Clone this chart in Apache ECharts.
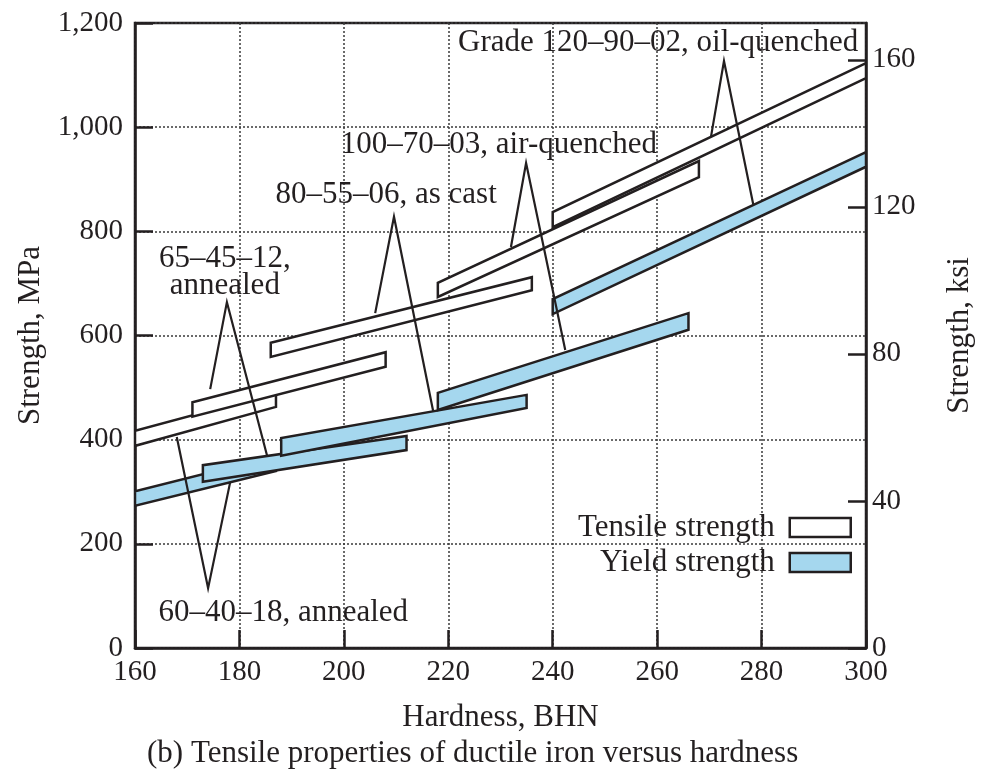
<!DOCTYPE html>
<html>
<head>
<meta charset="utf-8">
<title>Tensile properties of ductile iron versus hardness</title>
<script src="https://cdn.jsdelivr.net/npm/echarts@6.0.0/dist/echarts.min.js"></script>
<style>
  html, body { margin: 0; padding: 0; background: #fff; }
  #chart-container { width: 986px; height: 773px; }
</style>
</head>
<body>
<div id="chart-container"></div>
<script>
// each band: hardness range (BHN) and strength (MPa) at its two ends
var grades = ['60–40–18', '65–45–12', '80–55–06', '100–70–03', '120–90–02'];

var tensileFrom = [160, 171, 186, 218, 240];
var tensileTo = [187, 208, 236, 268, 300];
var tensileLowFrom = [388, 444, 559, 674, 808];
var tensileHighFrom = [417, 472, 586, 701, 837];
var tensileLowTo = [463, 540, 687, 904, 1094];
var tensileHighTo = [490, 568, 712, 935, 1123];

var yieldFrom = [160, 173, 188, 218, 240];
var yieldTo = [187, 212, 235, 266, 300];
var yieldLowFrom = [273, 319, 369, 457, 641];
var yieldHighFrom = [301, 351, 403, 490, 670];
var yieldLowTo = [340, 380, 461, 611, 924];
var yieldHighTo = [369, 407, 486, 643, 952];

// leader lines: point on tensile band, apex at the label, point on yield band
var leaderTensileX = [168, 174.4, 206, 232, 270.3];
var leaderTensileY = [405, 497, 643, 770, 981];
var leaderApexX = [174, 177.6, 209.6, 234.9, 272.8];
var leaderApexY = [115, 664, 828, 931, 1127];
var leaderYieldX = [178.2, 185.3, 217.1, 242.4, 278.4];
var leaderYieldY = [317, 369, 455, 572, 852];

var labelText = [
  '60–40–18, annealed',
  '65–45–12,\nannealed',
  '80–55–06, as cast',
  '100–70–03, air-quenched',
  'Grade 120–90–02, oil-quenched'
];
var labelX = [188.4, 177.2, 208.1, 229.7, 260.2];
var labelY = [67, 721, 870, 966, 1162];

var mpaTicks = [0, 200, 400, 600, 800, 1000, 1200];

var ink = '#231f20';
var blue = '#a5d7ee';
var serif = '"Liberation Serif", "Times New Roman", serif';

var tensileData = tensileFrom.map(function (x, i) {
  return [x, tensileTo[i], tensileLowFrom[i], tensileHighFrom[i], tensileLowTo[i], tensileHighTo[i]];
});
var yieldData = yieldFrom.map(function (x, i) {
  return [x, yieldTo[i], yieldLowFrom[i], yieldHighFrom[i], yieldLowTo[i], yieldHighTo[i]];
});
var leaderData = grades.map(function (g, i) {
  return [leaderTensileX[i], leaderTensileY[i], leaderApexX[i], leaderApexY[i], leaderYieldX[i], leaderYieldY[i]];
});
var labelData = labelText.map(function (t, i) {
  return [labelX[i], labelY[i]];
});

function bandItem(fill) {
  return function (params, api) {
    var x1 = api.value(0), x2 = api.value(1);
    var pts = [
      api.coord([x1, api.value(2)]),
      api.coord([x1, api.value(3)]),
      api.coord([x2, api.value(5)]),
      api.coord([x2, api.value(4)])
    ];
    return {
      type: 'polygon',
      shape: { points: pts },
      style: { fill: fill, stroke: ink, lineWidth: 2.5, lineJoin: 'miter' }
    };
  };
}

var dom = document.getElementById('chart-container');
var myChart = echarts.init(dom, null, { renderer: 'canvas' });

var option = {
  animation: false,
  backgroundColor: '#fff',
  textStyle: { fontFamily: serif, color: ink },
  title: {
    text: '(b) Tensile properties of ductile iron versus hardness',
    left: 147,
    top: 738,
    padding: 0,
    textStyle: { fontFamily: serif, fontSize: 31, fontWeight: 'normal', color: ink }
  },
  legend: {
    orient: 'vertical',
    align: 'right',
    right: 134,
    top: 512,
    padding: 0,
    itemWidth: 61,
    itemHeight: 19,
    itemGap: 4,
    textStyle: { fontFamily: serif, fontSize: 31, color: ink, lineHeight: 31, padding: [0, 10, 0, 0] },
    data: [
      { name: 'Tensile strength', icon: 'rect', itemStyle: { color: '#fff', borderColor: ink, borderWidth: 2.5 } },
      { name: 'Yield strength', icon: 'rect', itemStyle: { color: blue, borderColor: ink, borderWidth: 2.5 } }
    ]
  },
  grid: {
    left: 135, right: 120, top: 23, bottom: 125,
    show: true, borderColor: ink, borderWidth: 2.5,
    outerBoundsMode: 'none'
  },
  xAxis: {
    type: 'value',
    min: 160, max: 300, interval: 20,
    name: 'Hardness, BHN',
    nameLocation: 'middle',
    nameGap: 54,
    nameTextStyle: { fontFamily: serif, fontSize: 31, color: ink },
    axisLine: { show: true, lineStyle: { color: ink, width: 2.5 } },
    axisTick: { show: true, inside: true, length: 18, lineStyle: { color: ink, width: 2.5 } },
    axisLabel: { margin: 10, fontFamily: serif, fontSize: 29, color: ink },
    splitLine: { show: true, lineStyle: { color: '#3a3a3a', width: 1.5, type: [2, 2] } }
  },
  yAxis: [
    {
      type: 'value',
      min: mpaTicks[0], max: mpaTicks[mpaTicks.length - 1], interval: 200,
      name: 'Strength, MPa',
      nameLocation: 'middle',
      nameRotate: 90,
      nameGap: 88,
      nameTextStyle: { fontFamily: serif, fontSize: 31, color: ink },
      axisLine: { show: true, lineStyle: { color: ink, width: 2.5 } },
      axisTick: { show: true, inside: true, length: 18, lineStyle: { color: ink, width: 2.5 } },
      axisLabel: {
        margin: 12, fontFamily: serif, fontSize: 29, color: ink,
        formatter: function (v) { return v.toLocaleString('en-US'); }
      },
      splitLine: { show: true, lineStyle: { color: '#3a3a3a', width: 1.5, type: [2, 2] } }
    },
    {
      type: 'value',
      position: 'right',
      min: 0, max: 170, interval: 40,
      name: 'Strength, ksi',
      nameLocation: 'middle',
      nameRotate: 90,
      nameGap: 78,
      nameTextStyle: { fontFamily: serif, fontSize: 31, color: ink },
      axisLine: { show: true, lineStyle: { color: ink, width: 2.5 } },
      axisTick: { show: true, inside: true, length: 18, lineStyle: { color: ink, width: 2.5 } },
      axisLabel: { margin: 6, fontFamily: serif, fontSize: 29, color: ink, showMaxLabel: false },
      splitLine: { show: false }
    }
  ],
  series: [
    {
      name: 'Tensile strength',
      type: 'custom',
      silent: true,
      clip: true,
      z: 2,
      itemStyle: { color: '#fff', borderColor: ink, borderWidth: 2.5 },
      renderItem: bandItem('#fff'),
      encode: { x: [0, 1], y: [2, 3, 4, 5] },
      data: tensileData
    },
    {
      name: 'Yield strength',
      type: 'custom',
      silent: true,
      clip: true,
      z: 3,
      itemStyle: { color: blue, borderColor: ink, borderWidth: 2.5 },
      renderItem: bandItem(blue),
      encode: { x: [0, 1], y: [2, 3, 4, 5] },
      data: yieldData
    },
    {
      name: 'leaders',
      type: 'custom',
      silent: true,
      z: 4,
      renderItem: function (params, api) {
        return {
          type: 'polyline',
          shape: {
            points: [
              api.coord([api.value(0), api.value(1)]),
              api.coord([api.value(2), api.value(3)]),
              api.coord([api.value(4), api.value(5)])
            ]
          },
          style: { fill: null, stroke: ink, lineWidth: 2.2, lineJoin: 'miter' }
        };
      },
      encode: { x: [0, 2, 4], y: [1, 3, 5] },
      data: leaderData
    },
    {
      name: 'grade labels',
      type: 'custom',
      silent: true,
      z: 5,
      renderItem: function (params, api) {
        var p = api.coord([api.value(0), api.value(1)]);
        return {
          type: 'text',
          x: p[0],
          y: p[1],
          style: {
            text: labelText[params.dataIndex],
            fill: ink,
            fontFamily: serif,
            fontSize: 31,
            lineHeight: 27,
            align: 'center',
            verticalAlign: 'middle'
          }
        };
      },
      encode: { x: 0, y: 1 },
      data: labelData
    }
  ]
};

if (option && typeof option === 'object') {
  myChart.setOption(option);
}

window.addEventListener('resize', myChart.resize);
</script>
</body>
</html>
